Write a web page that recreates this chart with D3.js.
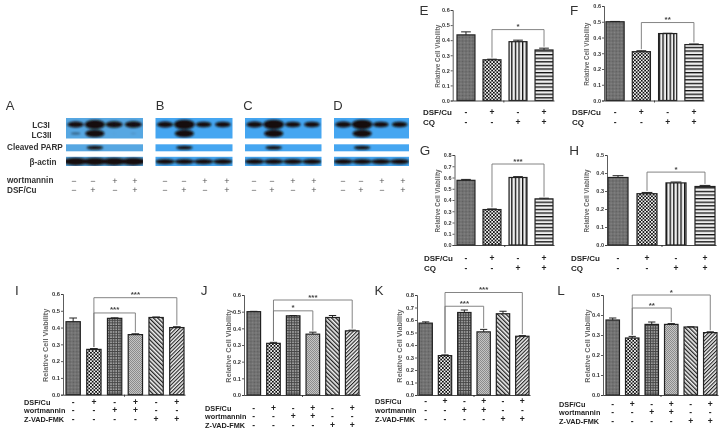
<!DOCTYPE html>
<html><head><meta charset="utf-8">
<script src="https://cdn.jsdelivr.net/npm/d3@7"></script>
<style>html,body{margin:0;padding:0;background:#fff}svg{display:block}</style>
</head><body><svg id="c" width="725" height="429"></svg>
<script>
// ---- values ----
const valuesE=[.435,.27,.39,.335], errorsE=[.02,.004,.01,.012];
const valuesF=[.5,.31,.425,.355], errorsF=[.002,.006,.002,.004];
const valuesG=[.575,.315,.6,.41], errorsG=[.008,.006,.008,.006];
const valuesH=[.375,.285,.345,.325], errorsH=[.01,.007,.005,.006];
const valuesI=[.435,.27,.455,.358,.46,.4], errorsI=[.022,.005,.003,.005,.003,.005];
const valuesJ=[.5,.31,.475,.365,.465,.385], errorsJ=[.002,.006,.002,.012,.012,.004];
const valuesK=[.575,.315,.66,.505,.65,.47], errorsK=[.01,.006,.02,.02,.02,.005];
const valuesL=[.375,.285,.353,.353,.34,.312], errorsL=[.01,.008,.012,.004,.001,.004];
const dsfCu4=["-","+","-","+"], cq4=["-","-","+","+"];
const dsfCu6=["-","+","-","+","-","+"], wort6=["-","-","+","+","-","-"], zvad6=["-","-","-","-","+","+"];
const yTicks06=[0,.1,.2,.3,.4,.5,.6], yTicks08=[0,.1,.2,.3,.4,.5,.6,.7,.8], yTicks05=[0,.1,.2,.3,.4,.5];
const yAxisTitle="Relative Cell Viability";
const blotWort=["−","−","+","+"], blotDsf=["−","+","−","+"];
const lc3iA=[.65,1,.7,.7], lc3iiA=[.2,.85,.04,.1], parpA=[0,.85,0,0], actinA=[1.3,1.3,1.3,1.3];
const lc3iB=[.65,1.05,.6,.6], lc3iiB=[0,.85,0,0], parpB=[0,.85,0,0], actinB=[.85,.85,.85,.85];

// ---- layout ----
const chartLayout=[
 {l:"E",lx:424,ly:10,vals:valuesE,errs:errorsE,max:.6,ticks:yTicks06,ax:452.7,top:10,bot:100.5,x0:457,x1:553,tf:5.5,yt:437.5,ytf:6.3,
  rows:[["DSF/Cu",dsfCu4,112],["CQ",cq4,122]],rx:423,rf:8,br:[[1,3,.47,"*"]]},
 {l:"F",lx:574,ly:10,vals:valuesF,errs:errorsF,max:.6,ticks:yTicks06,ax:604,top:6,bot:100.5,x0:606,x1:703,tf:5.5,yt:587,ytf:6.3,
  rows:[["DSF/Cu",dsfCu4,112],["CQ",cq4,122]],rx:572,rf:8,br:[[1,3,.495,"**"]]},
 {l:"G",lx:425,ly:150,vals:valuesG,errs:errorsG,max:.8,ticks:yTicks08,ax:454.5,top:155,bot:245,x0:457,x1:553,tf:5.5,yt:437.5,ytf:6.3,
  rows:[["DSF/Cu",dsfCu4,258],["CQ",cq4,268]],rx:424,rf:8,br:[[1,3,.72,"***"]]},
 {l:"H",lx:574,ly:150,vals:valuesH,errs:errorsH,max:.5,ticks:yTicks05,ax:607,top:155,bot:245,x0:608,x1:715,tf:5.5,yt:587,ytf:6.3,
  rows:[["DSF/Cu",dsfCu4,258],["CQ",cq4,268]],rx:571,rf:8,br:[[1,3,.405,"*"]]},
 {l:"I",lx:17,ly:290,vals:valuesI,errs:errorsI,max:.6,ticks:yTicks06,ax:63,top:294,bot:394.7,x0:66,x1:184,tf:5.8,yt:45,ytf:7.3,six:1,
  rows:[["DSF/Cu",dsfCu6,402],["wortmannin",wort6,410.5],["Z-VAD-FMK",zvad6,419]],rx:24,rf:7.3,br:[[1,5,.578,"***"],[1,3,.487,"***"]]},
 {l:"J",lx:204,ly:290,vals:valuesJ,errs:errorsJ,max:.6,ticks:yTicks06,ax:244,top:295,bot:395,x0:247,x1:359,tf:5.8,yt:228,ytf:7.3,six:1,
  rows:[["DSF/Cu",dsfCu6,408],["wortmannin",wort6,416.5],["Z-VAD-FMK",zvad6,425]],rx:205,rf:7.3,br:[[1,5,.57,"***"],[1,3,.505,"*"]]},
 {l:"K",lx:379,ly:290,vals:valuesK,errs:errorsK,max:.8,ticks:yTicks08,ax:417,top:295,bot:395,x0:419,x1:529,tf:5.8,yt:399,ytf:7.3,six:1,
  rows:[["DSF/Cu",dsfCu6,401],["wortmannin",wort6,410],["Z-VAD-FMK",zvad6,419]],rx:375,rf:7.3,br:[[1,5,.82,"***"],[1,3,.71,"***"]]},
 {l:"L",lx:561,ly:290,vals:valuesL,errs:errorsL,max:.5,ticks:yTicks05,ax:603,top:295,bot:395,x0:606,x1:717,tf:5.8,yt:587,ytf:7.3,six:1,
  rows:[["DSF/Cu",dsfCu6,404],["wortmannin",wort6,412.5],["Z-VAD-FMK",zvad6,421]],rx:559,rf:7.3,br:[[1,5,.5,"*"],[1,3,.435,"**"]]}
];
const blotLayout=[
 {l:"A",lx:10,x0:66,x1:143,blue:"#57a7e2",i:lc3iA,ii:lc3iiA,p:parpA,a:actinA,sym:[74,93,115,135]},
 {l:"B",lx:160,x0:155.5,x1:232.5,blue:"#45a6f1",i:lc3iB,ii:lc3iiB,p:parpB,a:actinB,sym:[165,184,205,227]},
 {l:"C",lx:248,x0:245,x1:321.5,blue:"#45a6f1",i:lc3iB,ii:lc3iiB,p:parpB,a:actinB,sym:[254,272,293,314]},
 {l:"D",lx:338,x0:334,x1:409,blue:"#45a6f1",i:lc3iB,ii:lc3iiB,p:parpB,a:actinB,sym:[343,361,382,403]}
];
const FONT="'Liberation Sans',Arial,sans-serif";
const svg=d3.select("#c"), defs=svg.append("defs");
const blur=(id,s)=>defs.append("filter").attr("id",id).attr("x","-30%").attr("y","-60%").attr("width","160%").attr("height","220%")
  .append("feGaussianBlur").attr("stdDeviation",s);
blur("soft",.3); blur("band",.8);

function pat(id,w,h,bg,draw,rot){
  const p=defs.append("pattern").attr("id",id).attr("patternUnits","userSpaceOnUse").attr("width",w).attr("height",h);
  if(rot) p.attr("patternTransform","rotate("+rot+")");
  p.append("rect").attr("width",w).attr("height",h).attr("fill",bg);
  draw(p);
}
const r=(p,x,y,w,h,f)=>p.append("rect").attr("x",x).attr("y",y).attr("width",w).attr("height",h).attr("fill",f);
pat("p0",2,2,"#868686",p=>{r(p,0,0,1,1,"#5e5e5e");r(p,1,1,1,1,"#5e5e5e");},45);
pat("p1",3.4,3.4,"#f4f4f4",p=>{r(p,0,0,1.7,1.7,"#111");r(p,1.7,1.7,1.7,1.7,"#111");});
pat("p2",3.6,3.6,"#eee",p=>r(p,0,0,1.3,3.6,"#111"));
pat("p3",3.6,3.6,"#eee",p=>r(p,0,0,3.6,1.3,"#111"));
pat("p4",2.6,2.6,"#a8a8a8",p=>{r(p,0,0,1,2.6,"#444");r(p,0,0,2.6,1,"#444");});
pat("p5",2,2,"#c4c4c4",p=>{r(p,0,0,1,1,"#8c8c8c");r(p,1,1,1,1,"#8c8c8c");});
pat("p6",3,3,"#f2f2f2",p=>r(p,0,0,1.3,3,"#222"),-45);
pat("p7",2.6,2.6,"#f2f2f2",p=>r(p,0,0,1.1,2.6,"#222"),45);
const fill4=["p0","p1","p2","p3"], fill6=["p0","p1","p4","p5","p6","p7"];

const root=svg.append("g").attr("filter","url(#soft)");
root.append("rect").attr("width",725).attr("height",429).attr("fill","#fff");

chartLayout.forEach(c=>{
  const g=root.append("g"), n=c.vals.length, idx=d3.range(n);
  const x=d3.scaleBand().domain(idx).range([c.x0,c.x1]).paddingInner(.31).paddingOuter(0);
  const y=d3.scaleLinear().domain([0,c.max]).range([c.bot,c.top]);
  const ink="#222";
  g.append("text").attr("x",c.lx).attr("y",c.ly).attr("dy",".35em").attr("text-anchor","middle")
    .attr("font-family",FONT).attr("font-size",13.5).attr("fill","#333").text(c.l);
  g.selectAll(".b").data(idx).join("rect")
    .attr("x",i=>x(i)).attr("width",x.bandwidth()).attr("y",i=>y(c.vals[i])).attr("height",i=>c.bot-y(c.vals[i]))
    .attr("fill",i=>"url(#"+(c.six?fill6:fill4)[i]+")").attr("stroke",ink).attr("stroke-width",1.2);
  const cap=x.bandwidth()*.27;
  const eb=g.append("g").attr("stroke",ink).attr("stroke-width",1).attr("fill","none");
  idx.forEach(i=>{
    const cx=x(i)+x.bandwidth()/2, t=y(c.vals[i]+c.errs[i]);
    eb.append("path").attr("d",d3.line()([[cx,y(c.vals[i])],[cx,t]]));
    eb.append("path").attr("d",d3.line()([[cx-cap,t],[cx+cap,t]]));
  });
  const ya=d3.axisLeft(y).tickValues(c.ticks).tickSize(2).tickPadding(1).tickFormat(d3.format(".1f"));
  const ag=g.append("g").attr("transform","translate("+c.ax+",0)").call(ya);
  ag.selectAll("text").attr("font-family",FONT).attr("font-size",c.tf).attr("font-weight","bold").attr("fill","#333");
  ag.selectAll("line,path").attr("stroke","#333").attr("stroke-width",.8);
  const xl=d3.scaleLinear().domain([0,1]).range([c.ax,c.x1+1]);
  const xa=d3.axisBottom(xl).tickValues([.5]).tickSize(2).tickSizeOuter(0).tickFormat("");
  const xg=g.append("g").attr("transform","translate(0,"+c.bot+")").call(xa);
  xg.selectAll("line,path").attr("stroke","#333").attr("stroke-width",.9);
  g.append("text").attr("transform","translate("+c.yt+","+((c.top+c.bot)/2+1)+") rotate(-90)").attr("dy",".35em")
    .attr("text-anchor","middle").attr("font-family",FONT).attr("font-size",c.ytf).attr("font-weight","bold").attr("fill","#666").text(yAxisTitle);
  c.br.forEach(b=>{
    const a=x(b[0])+x.bandwidth()/2, e=x(b[1])+x.bandwidth()/2, ly=y(b[2]);
    const ya1=y(c.vals[b[0]]+c.errs[b[0]])-1.5, ya2=y(c.vals[b[1]]+c.errs[b[1]])-1.5;
    g.append("path").attr("d",d3.line()([[a,ya1],[a,ly],[e,ly],[e,ya2]])).attr("fill","none").attr("stroke","#777").attr("stroke-width",.9);
    g.append("text").attr("x",(a+e)/2).attr("y",ly-.5).attr("text-anchor","middle").attr("font-family",FONT)
      .attr("font-size",8).attr("font-weight","bold").attr("fill","#444").text(b[3]);
  });
  c.rows.forEach(row=>{
    g.append("text").attr("x",c.rx).attr("y",row[2]).attr("dy",".35em").attr("font-family",FONT).attr("font-size",c.rf)
      .attr("font-weight","bold").attr("fill","#222").text(row[0]);
    g.selectAll(null).data(row[1]).join("text").attr("x",(d,i)=>x(i)+x.bandwidth()/2).attr("y",row[2]).attr("dy",".35em")
      .attr("text-anchor","middle").attr("font-family",FONT).attr("font-size",8.5).attr("font-weight","bold").attr("fill","#222").text(d=>d);
  });
});

blotLayout.forEach((b,k)=>{
  const g=root.append("g");
  const lane=d3.scalePoint().domain([0,1,2,3]).range([b.x0,b.x1]).padding(.5);
  g.append("text").attr("x",b.lx).attr("y",105).attr("dy",".35em").attr("text-anchor","middle")
    .attr("font-family",FONT).attr("font-size",13).attr("fill","#333").text(b.l);
  const strips=[[118,20.5],[144.3,7],[156.8,9.2]];
  const clip=defs.append("clipPath").attr("id","blot"+k);
  strips.forEach(s=>{
    g.append("rect").attr("x",b.x0).attr("y",s[0]).attr("width",b.x1-b.x0).attr("height",s[1]).attr("fill",b.blue);
    clip.append("rect").attr("x",b.x0).attr("y",s[0]).attr("width",b.x1-b.x0).attr("height",s[1]);
  });
  const bands=g.append("g").attr("clip-path","url(#blot"+k+")").append("g").attr("filter","url(#band)");
  const lc3Y=d3.scaleLinear().domain([0,1]).range([124.5,133.5]);
  const put=(vals,cy,rxK,ryK)=>bands.selectAll(null).data(vals.map((v,i)=>({v,i})).filter(d=>d.v>0)).join("ellipse")
    .attr("cx",d=>lane(d.i)).attr("cy",cy).attr("rx",d=>rxK*Math.sqrt(d.v)).attr("ry",d=>ryK*d.v)
    .attr("fill","#150f08").attr("opacity",d=>Math.min(1,d.v*2.5));
  put(b.i,lc3Y(0),10.2,4.6);
  put(b.ii,lc3Y(1),10.4,4.4);
  put(b.p,147.6,9,2.3);
  put(b.a,161.6,10.6,3);
  [[180.4,blotWort],[190,blotDsf]].forEach(row=>{
    g.selectAll(null).data(row[1]).join("text").attr("x",(d,i)=>b.sym[i]).attr("y",row[0]).attr("dy",".35em")
      .attr("text-anchor","middle").attr("font-family",FONT).attr("font-size",9).attr("fill","#555").text(d=>d);
  });
});
const blotLabels=[["LC3I",41,125.6,"middle"],["LC3II",41.5,135.2,"middle"],["Cleaved PARP",7,147.5,"start"],["β-actin",43,162,"middle"],["wortmannin",7,180.5,"start"],["DSF/Cu",7,190.5,"start"]];
root.selectAll(null).data(blotLabels).join("text").attr("x",d=>d[1]).attr("y",d=>d[2]).attr("dy",".35em").attr("text-anchor",d=>d[3])
  .attr("font-family",FONT).attr("font-size",8.2).attr("font-weight","bold").attr("fill","#333").text(d=>d[0]);
</script></body></html>
